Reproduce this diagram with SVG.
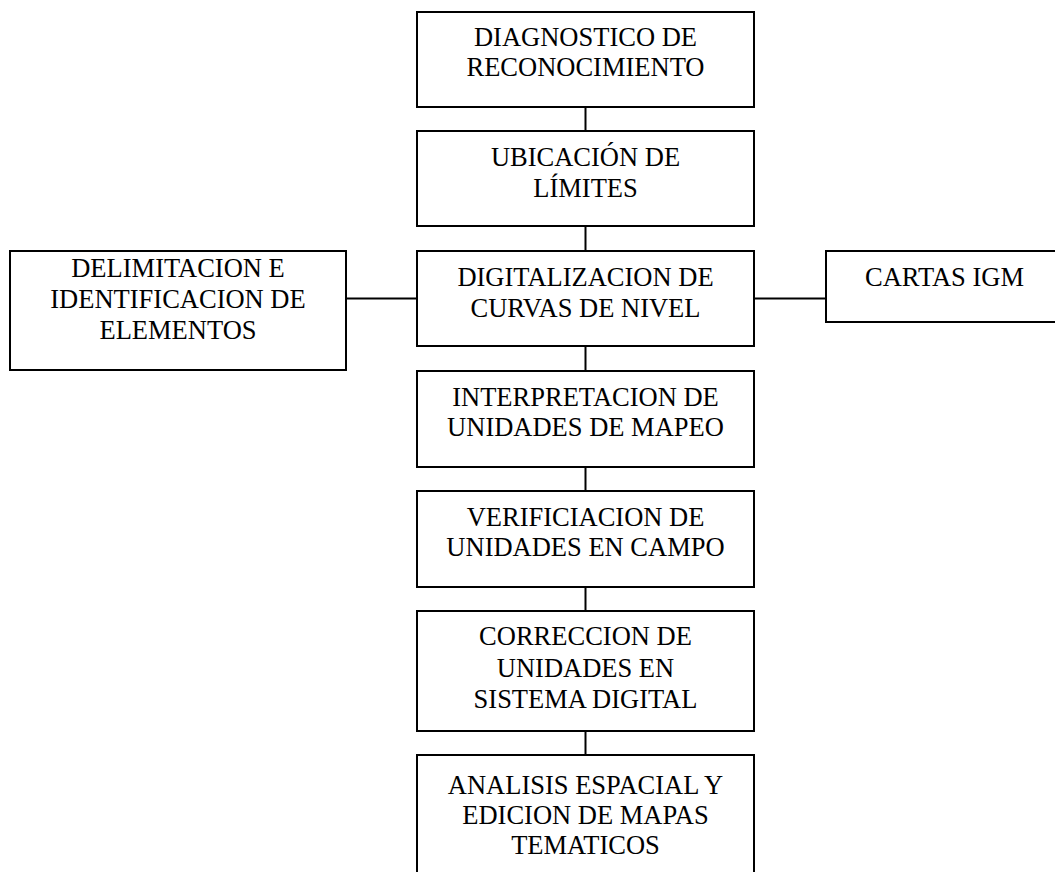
<svg xmlns="http://www.w3.org/2000/svg" width="1055" height="872" viewBox="0 0 1055 872">
<style>
.box{fill:#fff;stroke:#000;stroke-width:2}
.t{font-family:"Liberation Serif","Times New Roman",serif;font-size:26.5px;fill:#000;text-anchor:middle}
.c{stroke:#000;stroke-width:2;fill:none}
</style>
<rect width="1055" height="872" fill="#fff"/>
<g id="connectors">
<line class="c" x1="585.5" y1="107" x2="585.5" y2="131"/>
<line class="c" x1="585.5" y1="226" x2="585.5" y2="251"/>
<line class="c" x1="585.5" y1="346" x2="585.5" y2="371"/>
<line class="c" x1="585.5" y1="467" x2="585.5" y2="491"/>
<line class="c" x1="585.5" y1="587" x2="585.5" y2="611"/>
<line class="c" x1="585.5" y1="731" x2="585.5" y2="755"/>
<line class="c" x1="346" y1="298.5" x2="417" y2="298.5"/>
<line class="c" x1="754" y1="298.5" x2="826" y2="298.5"/>
</g>
<g id="n1"><rect class="box" x="417" y="12" width="337" height="95"/>
<text class="t" x="585.5" y="46">DIAGNOSTICO DE</text><text class="t" x="585.5" y="76">RECONOCIMIENTO</text></g>
<g id="n2"><rect class="box" x="417" y="131" width="337" height="95"/>
<text class="t" x="585.5" y="166">UBICACIÓN DE</text><text class="t" x="585.5" y="197">LÍMITES</text></g>
<g id="n3"><rect class="box" x="417" y="251" width="337" height="95"/>
<text class="t" x="585.5" y="286">DIGITALIZACION DE</text><text class="t" x="585.5" y="317">CURVAS DE NIVEL</text></g>
<g id="n4"><rect class="box" x="417" y="371" width="337" height="96"/>
<text class="t" x="585.5" y="406">INTERPRETACION DE</text><text class="t" x="585.5" y="436">UNIDADES DE MAPEO</text></g>
<g id="n5"><rect class="box" x="417" y="491" width="337" height="96"/>
<text class="t" x="585.5" y="526">VERIFICIACION DE</text><text class="t" x="585.5" y="556">UNIDADES EN CAMPO</text></g>
<g id="n6"><rect class="box" x="417" y="611" width="337" height="120"/>
<text class="t" x="585.5" y="645">CORRECCION DE</text><text class="t" x="585.5" y="677">UNIDADES EN</text><text class="t" x="585.5" y="708">SISTEMA DIGITAL</text></g>
<g id="n7"><rect class="box" x="417" y="755" width="337" height="125"/>
<text class="t" x="585.5" y="794">ANALISIS ESPACIAL Y</text><text class="t" x="585.5" y="824">EDICION DE MAPAS</text><text class="t" x="585.5" y="854">TEMATICOS</text></g>
<g id="nL"><rect class="box" x="10" y="251" width="336" height="119"/>
<text class="t" x="178" y="277">DELIMITACION E</text><text class="t" x="178" y="308">IDENTIFICACION DE</text><text class="t" x="178" y="339">ELEMENTOS</text></g>
<g id="nR"><rect class="box" x="826" y="251" width="237" height="71"/>
<text class="t" x="944.5" y="286">CARTAS IGM</text></g>
</svg>
